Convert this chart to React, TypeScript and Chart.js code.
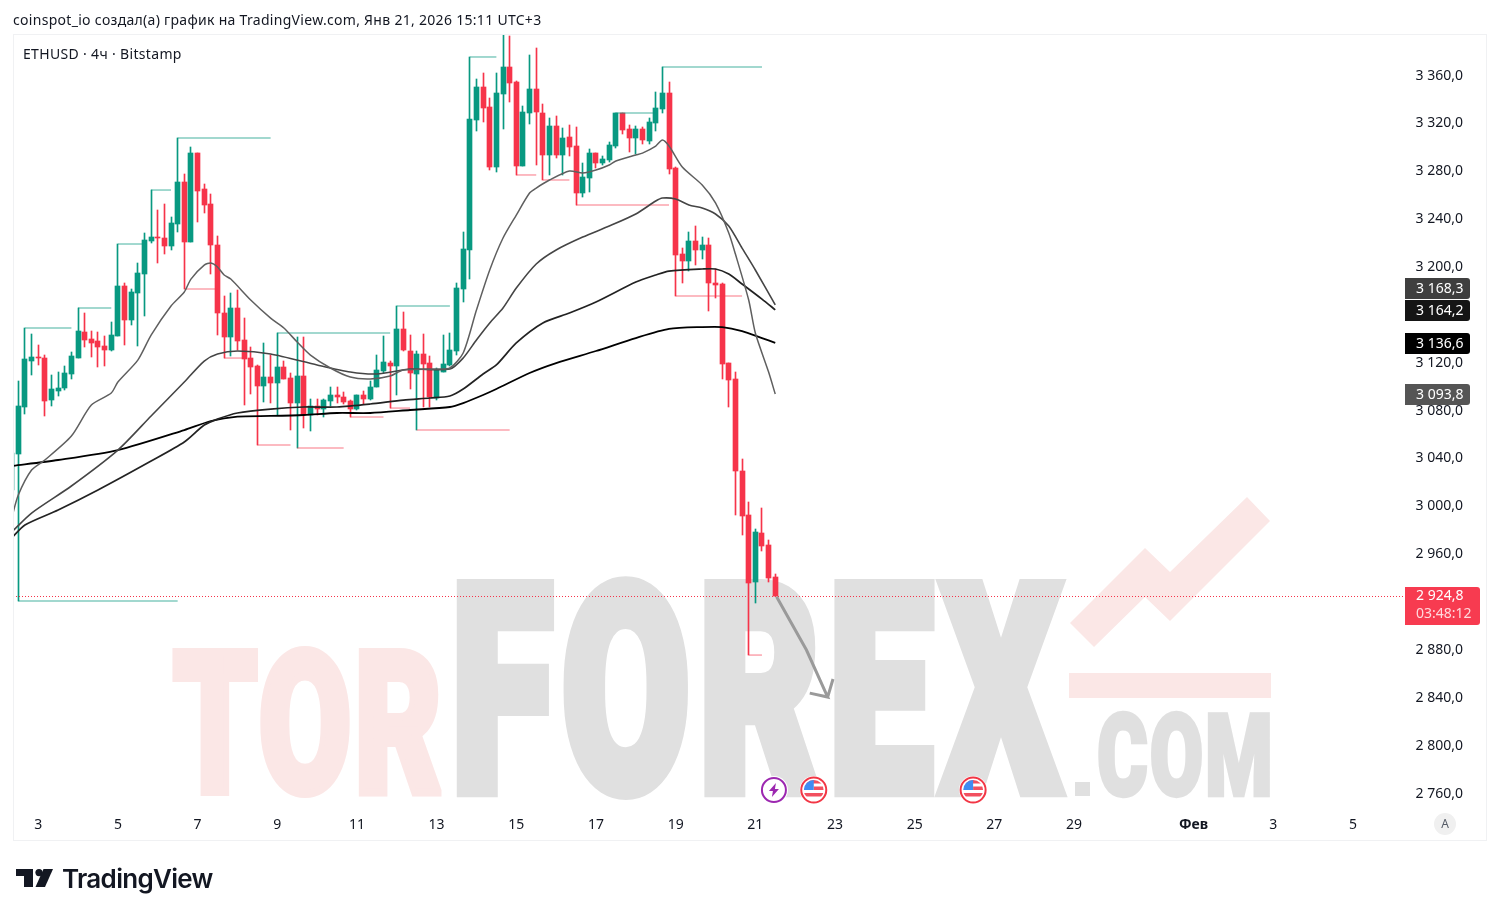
import React, { useEffect, useRef } from "react";
import { Chart, registerables } from "chart.js";

Chart.register(...registerables);

const FIRST_INDEX = -1;
const opens = [3013.6,3043.7,3083.2,3121.4,3124.8,3123.9,3088.8,3096.3,3098.8,3110.6,3123.9,3145.6,3139.8,3138.1,3133.9,3130.6,3142.3,3184.1,3155.7,3178.2,3194.1,3221.7,3225,3224.2,3217.5,3235.9,3271,3220.9,3295.2,3265.2,3252.6,3218.4,3161.5,3141.5,3165.7,3139,3123.9,3117.2,3100.5,3108,3103,3116.4,3107.2,3086.3,3108.9,3076.3,3083.8,3081.3,3088,3093,3091.3,3088,3081.3,3093,3089.7,3099.7,3113.1,3119.7,3117.2,3148.2,3129.8,3110.6,3127.3,3119.7,3090.5,3112.2,3118.1,3129.8,3181.6,3214.2,3322.8,3350.4,3333.7,3283.5,3344.5,3367.1,3354.6,3284.4,3328.7,3348.7,3328.7,3293.6,3317.8,3293.6,3308.6,3301.1,3261.8,3274.3,3295.2,3286.9,3289.4,3301.1,3328.7,3315.3,3307.8,3315.3,3305.3,3320.3,3332,3345.4,3282.7,3210.8,3205,3221.7,3214.2,3218.4,3186.6,3185.8,3119.7,3106.4,3029.5,2992.7,2936.7,2977.7,2967.6,2940.9];
const highs = [3044.5,3104.7,3149,3144,3134.8,3126.4,3109.7,3112.2,3117.2,3128.9,3165.7,3161.5,3146.5,3145.6,3142.3,3154,3219.2,3186.6,3181.6,3203.3,3228.4,3264.3,3247.6,3252.6,3241.8,3307.8,3277.7,3300.3,3295.2,3269.3,3261,3225.9,3175.7,3178.2,3180.7,3157.3,3133.1,3118.1,3136.5,3126.4,3144.8,3121.4,3111.4,3141.5,3141.5,3089.7,3089.7,3089.7,3099.7,3099.7,3095.5,3088.8,3093,3096.3,3104.7,3126.4,3142.3,3121.4,3167.4,3162.4,3143.1,3129.8,3144,3125.6,3115.6,3143.1,3144.8,3186.6,3229.2,3375.5,3357.1,3362.1,3341.2,3362.1,3394.7,3393,3355.4,3334.5,3377.1,3383,3336.2,3324.5,3326.2,3316.1,3318.6,3317,3286.9,3298.6,3295.2,3292.7,3304.4,3328.7,3328.7,3318.6,3317.8,3317,3324.5,3346.2,3367.1,3354.6,3283.5,3215.8,3229.2,3234.2,3225,3224.2,3198.3,3186.6,3119.7,3112.2,3039.5,3003.6,2981,2998.6,2971.8,2943.4];
const lows = [3013.6,2920.8,3077.1,3109.7,3118.1,3075.5,3083.8,3092.2,3097.2,3106.4,3123.9,3133.1,3124.8,3116.4,3117.2,3129.8,3142.3,3134.8,3151.5,3133.9,3159,3220,3203.3,3210.8,3214.2,3229.2,3181.6,3220.9,3237.6,3245.1,3194.1,3143.1,3123.9,3125.6,3130.6,3084.6,3093.8,3051.2,3087.1,3086.3,3076.3,3106.4,3063.7,3048.7,3065.4,3062.9,3076.3,3074.6,3083.8,3086.3,3085.5,3074.6,3080.5,3085.5,3088.8,3099.7,3111.4,3082.1,3093,3129.8,3098,3063.7,3083,3083,3088.8,3112.2,3117.2,3126.4,3170.7,3189.9,3313.6,3321.1,3281,3279.4,3315.3,3337.9,3276.9,3284.4,3319.5,3285.2,3272.7,3276.9,3291.1,3276.9,3292.7,3251.8,3258.5,3262.6,3282.7,3285.2,3287.7,3299.4,3311.1,3296.1,3294.4,3302.8,3302.8,3313.6,3328.7,3277.7,3175.7,3186.6,3196.6,3201.6,3206.7,3163.2,3174.1,3106.4,3083,2992.7,2976,2875.7,2919.2,2962.6,2936.7,2924.8];
const closes = [3044.5,3083.8,3123.1,3124.8,3123.9,3088,3098,3098.8,3111.4,3125.6,3146.5,3139,3136.5,3133.1,3130.6,3143.1,3184.1,3155.7,3179.1,3195,3222.5,3225,3224.2,3217.5,3236.7,3271,3220.9,3295.2,3263.5,3251.8,3218.4,3161.5,3141.5,3165.7,3138.1,3123.1,3116.4,3100.5,3108,3103,3116.4,3106.4,3086.3,3108.9,3076.3,3083.8,3081.3,3088.8,3093,3091.3,3087.1,3081.3,3093,3089.7,3099.7,3113.9,3120.6,3117.2,3148.2,3130.6,3111.4,3127.3,3118.9,3091.3,3113.9,3118.9,3130.6,3182.4,3215,3323.7,3350.4,3332.8,3283.5,3345.4,3367.1,3353.7,3284.4,3329.5,3348.7,3329.5,3293.6,3317.8,3293.6,3307.8,3300.3,3261.8,3275.2,3295.2,3286.9,3290.2,3301.9,3328.7,3314.5,3307.8,3315.3,3306.1,3321.1,3332.8,3345.4,3281.9,3210,3205,3221.7,3214.2,3218.4,3186.6,3184.9,3118.9,3105.5,3029.5,2991.9,2935.9,2978.5,2966.8,2940.1,2924.8];

const ma1Index = [-1,0,2,4,8,11,14,15,18,20,23,25,26,28,29,30,31,32,35,38,40,42,44,47,50,53,56,58,63,65,67,69,71,73,75,77,78,80,83,85,87,89,90,93,94,96,97,98,100,103,105,107,108,110,111,113,114];
const ma1Values = [2990.2,3009.4,3030.3,3038.7,3058.7,3084.6,3094.7,3103.9,3122.2,3143.1,3167.4,3179.1,3189.9,3201.6,3203.3,3200,3193.3,3189.9,3172.4,3157.3,3149,3137.3,3126.4,3115.6,3108,3106.4,3108.9,3113.9,3114.7,3115.6,3128.1,3164,3197.5,3224.2,3243.4,3261.8,3266,3272.7,3280.2,3278.5,3281,3285.2,3288.6,3293.6,3295.2,3301.1,3306.1,3301.1,3283.5,3268.5,3253.5,3228.4,3210.8,3172.4,3144.8,3112.2,3093.8];
const ma2Index = [-1,2,8,15,20,25,28,30,33,38,45,50,54,59,65,67,69,71,73,75,78,81,85,89,93,96,97,99,101,103,105,107,109,111,114];
const ma2Values = [2978.5,2994.4,3017,3047,3075.5,3103.9,3121.4,3127.3,3129.8,3127.3,3118.1,3112.2,3110.6,3114.7,3114.7,3123.9,3139,3153.2,3165.7,3182.4,3202.5,3214.2,3225,3234.2,3244.3,3255.1,3257.6,3256.8,3251.8,3249.3,3244.3,3234.2,3215.8,3197.5,3168.3];
const ma3Index = [-1,1,6,12,20,25,28,30,33,38,43,48,53,58,62,65,67,70,72,75,79,83,87,93,96,98,103,105,107,109,112,114];
const ma3Values = [2973.5,2984.4,2996.9,3013.6,3037.8,3053.7,3067.9,3072.9,3078,3081.3,3083,3083,3085.5,3088.8,3090.5,3092.2,3098,3110.6,3118.1,3136.5,3153.2,3161.5,3170.7,3187.4,3193.3,3196.6,3198.3,3198.3,3194.1,3185.8,3173.2,3164.2];
const ma4Index = [-1,6,15,25,29,33,38,43,48,53,59,65,67,70,72,77,81,87,93,98,103,106,109,112,114];
const ma4Values = [3033.7,3038.7,3047,3063.7,3071.3,3075,3075.5,3076.3,3078,3078,3080.5,3083,3086.3,3093,3098,3111.4,3119.7,3129.8,3140.6,3148.2,3149.8,3149.8,3146.5,3140.6,3136.6];

const pivotHighStart = [0,1,9,15,20,24,39,57,68,90,97];
const pivotHighEnd = [24,8,14,19,23,38,56,65,72,96,112];
const pivotHighLevel = [2920.8,3149,3165.7,3219.2,3264.3,3307.8,3144.8,3167.4,3375.5,3328.7,3367.1];
const pivotLowStart = [25,31,36,42,50,56,60,75,79,84,99,110];
const pivotLowEnd = [30,34,41,49,55,59,74,78,83,98,109,112];
const pivotLowLevel = [3181.6,3123.9,3051.2,3048.7,3074.6,3082.1,3063.7,3276.9,3272.7,3251.8,3175.7,2875.7];

const arrowIndex = [114.2,118.7,121.9,119.2,121.9,122.7];
const arrowPrice = [2924.4,2879.9,2840.6,2843.9,2840.6,2855.7];

const priceTicks = [2760,2800,2840,2880,2920,2960,3000,3040,3080,3120,3160,3200,3240,3280,3320,3360];
const timeTickIndex = [3,15,27,39,51,63,75,87,99,111,123,135,147,159,177,189,201];
const timeTickLabels = ["3","5","7","9","11","13","15","17","19","21","23","25","27","29","Фев","3","5"];
const boldTimeTick = "Фев";

const lastPrice = 2924.8;
const countdown = "03:48:12";
const maLastValues = [3168.3, 3164.2, 3136.6, 3093.8];
const maLabelColors = ["#3f3f3f", "#151515", "#000000", "#555555"];

const eventIndex = [113.8, 119.8, 143.8];
const eventKinds = ["bolt", "flag", "flag"];

const titleText = "coinspot_io создал(а) график на TradingView.com, Янв 21, 2026 15:11 UTC+3";
const symbolText = "ETHUSD · 4ч · Bitstamp";

const UP = "#089981";
const DOWN = "#F6344A";
const FONT = '"Noto Sans"';

const fmtPrice = (v: number) => {
  const s = v.toFixed(1).replace(".", ",");
  const i = s.indexOf(",");
  return s.slice(0, i - 3) + " " + s.slice(i - 3);
};

function fitText(ctx: CanvasRenderingContext2D, text: string, x0: number, y0: number, x1: number, y1: number, color: string, bold = 8, spacing = 0) {
  ctx.save();
  ctx.font = "900 200px Roboto";
  (ctx as any).letterSpacing = `${spacing}px`;
  ctx.textAlign = "left";
  ctx.textBaseline = "alphabetic";
  const m = ctx.measureText(text);
  const w = m.actualBoundingBoxLeft + m.actualBoundingBoxRight + bold;
  const h = m.actualBoundingBoxAscent + m.actualBoundingBoxDescent + bold;
  const sx = (x1 - x0) / w;
  const sy = (y1 - y0) / h;
  ctx.translate(x0 + (m.actualBoundingBoxLeft + bold / 2) * sx, y0 + (m.actualBoundingBoxAscent + bold / 2) * sy);
  ctx.scale(sx, sy);
  ctx.fillStyle = color;
  ctx.strokeStyle = color;
  ctx.lineWidth = bold;
  ctx.lineJoin = "miter";
  ctx.fillText(text, 0, 0);
  ctx.strokeText(text, 0, 0);
  ctx.restore();
}

const watermark = {
  id: "watermark",
  beforeDatasetsDraw(chart: any) {
    const ctx: CanvasRenderingContext2D = chart.ctx;
    const gray = "#e0e0e0";
    const pink = "#fbe7e6";
    fitText(ctx, "TOR", 172, 645, 442, 798, pink, 8, 4);
    fitText(ctx, "FOREX", 456, 575, 1065, 800, gray, 10, 10);
    fitText(ctx, "COM", 1098, 710, 1270, 798, gray, 8, 6);
    ctx.save();
    ctx.fillStyle = gray;
    ctx.fillRect(1075, 782, 15, 14);
    ctx.fillStyle = pink;
    ctx.beginPath();
    const pts = [[1070,623],[1145,548],[1170,572],[1247,497],[1270,521],[1170,621],[1145,597],[1094,647]];
    pts.forEach(([x, y], i) => (i ? ctx.lineTo(x, y) : ctx.moveTo(x, y)));
    ctx.closePath();
    ctx.fill();
    ctx.fillRect(1069, 673, 202, 25);
    ctx.restore();
  },
};

const snapBars = {
  id: "snapBars",
  afterDatasetsUpdate(chart: any) {
    chart.data.datasets.forEach((ds: any, k: number) => {
      if (ds.type === "line") return;
      chart.getDatasetMeta(k).data.forEach((el: any) => {
        el.x = Math.floor(el.x) + 0.5;
        let top = Math.round(Math.min(el.y, el.base));
        let bot = Math.round(Math.max(el.y, el.base));
        if (bot <= top) bot = top + 1;
        el.y = top;
        el.base = bot;
      });
    });
  },
};

const overlays = {
  id: "overlays",
  afterDraw(chart: any) {
    const ctx: CanvasRenderingContext2D = chart.ctx;
    const y = chart.scales.y;
    const x = chart.scales.x;
    const area = chart.chartArea;
    ctx.save();

    const ly = Math.round(y.getPixelForValue(lastPrice)) + 0.5;
    ctx.strokeStyle = DOWN;
    ctx.lineWidth = 1;
    ctx.setLineDash([1, 2]);
    ctx.beginPath();
    ctx.moveTo(area.left, ly);
    ctx.lineTo(1405, ly);
    ctx.stroke();
    ctx.setLineDash([]);

    const order = maLastValues.map((v, i) => ({ v, c: maLabelColors[i] })).sort((a, b) => a.v - b.v);
    let prev = Infinity;
    const boxH = 21;
    ctx.textBaseline = "middle";
    ctx.textAlign = "left";
    order.forEach(({ v, c }) => {
      let cy = y.getPixelForValue(v);
      if (prev - cy < boxH + 1) cy = prev - (boxH + 1);
      prev = cy;
      const top = Math.round(cy - boxH / 2 + 0.5);
      ctx.fillStyle = c;
      ctx.beginPath();
      (ctx as any).roundRect(1405, top, 65, boxH, [0, 3, 3, 0]);
      ctx.fill();
      ctx.fillStyle = "#ffffff";
      ctx.font = `14px ${FONT}`;
      ctx.fillText(fmtPrice(v), 1416, top + boxH / 2 + 0.5);
    });

    ctx.fillStyle = "#F73B50";
    ctx.beginPath();
    (ctx as any).roundRect(1405, 587, 75, 38, [0, 3, 3, 0]);
    ctx.fill();
    ctx.fillStyle = "#ffffff";
    ctx.font = `14px ${FONT}`;
    ctx.fillText(fmtPrice(lastPrice), 1416, 596.5);
    ctx.fillStyle = "#ffd9dd";
    ctx.fillText(countdown, 1416, 614);

    eventIndex.forEach((idx, k) => {
      const cx = x.getPixelForValue(idx);
      const cy = 790;
      ctx.fillStyle = "#ffffff";
      ctx.beginPath();
      ctx.arc(cx, cy, 14, 0, Math.PI * 2);
      ctx.fill();
      if (eventKinds[k] === "bolt") {
        ctx.strokeStyle = "#9C27B0";
        ctx.lineWidth = 2;
        ctx.beginPath();
        ctx.arc(cx, cy, 12, 0, Math.PI * 2);
        ctx.stroke();
        ctx.fillStyle = "#9C27B0";
        ctx.beginPath();
        const b = [[2,-7],[-5,1],[-1,1],[-2,7],[5,-1],[1,-1]];
        b.forEach(([dx, dy], i) => (i ? ctx.lineTo(cx + dx, cy + dy) : ctx.moveTo(cx + dx, cy + dy)));
        ctx.closePath();
        ctx.fill();
      } else {
        ctx.strokeStyle = "#F23645";
        ctx.lineWidth = 2;
        ctx.beginPath();
        ctx.arc(cx, cy, 12.5, 0, Math.PI * 2);
        ctx.stroke();
        ctx.save();
        ctx.beginPath();
        ctx.arc(cx, cy, 10, 0, Math.PI * 2);
        ctx.clip();
        ctx.fillStyle = "#ffffff";
        ctx.fillRect(cx - 10, cy - 10, 20, 20);
        ctx.fillStyle = "#F2505F";
        ctx.fillRect(cx - 10, cy - 10, 20, 3.5);
        ctx.fillRect(cx, cy - 3.5, 10, 3.5);
        ctx.fillRect(cx - 10, cy + 3, 20, 3.5);
        ctx.fillStyle = "#3F8CF2";
        ctx.fillRect(cx - 10, cy - 10, 10, 10);
        ctx.restore();
      }
    });

    ctx.fillStyle = "#f0f0f0";
    ctx.beginPath();
    ctx.arc(1445, 824, 11, 0, Math.PI * 2);
    ctx.fill();
    ctx.fillStyle = "#555b66";
    ctx.font = `12px ${FONT}`;
    ctx.textAlign = "center";
    ctx.fillText("A", 1445, 824.5);
    ctx.restore();
  },
};

const indexOf = (i: number) => i + FIRST_INDEX;
const zip = (xs: number[], ys: number[]) => xs.map((v, i) => ({ x: v, y: ys[i] }));

export default function App() {
  const ref = useRef<HTMLCanvasElement>(null);
  useEffect(() => {
    const colors = closes.map((c, i) => (c >= opens[i] ? UP : DOWN));
    const pivot = (s: number[], e: number[], l: number[], color: string) =>
      s.map((v, i) => ({
        type: "line",
        data: [{ x: v, y: l[i] }, { x: e[i], y: l[i] }],
        borderColor: color,
        borderWidth: 1.5,
        pointRadius: 0,
        order: 3,
      }));
    const ma = (xs: number[], ys: number[], color: string, width: number) => ({
      type: "line",
      data: zip(xs, ys),
      borderColor: color,
      borderWidth: width,
      pointRadius: 0,
      tension: 0.25,
      order: 1,
    });
    const chart = new Chart(ref.current as HTMLCanvasElement, {
      type: "bar",
      data: {
        datasets: [
          ma(ma1Index, ma1Values, "#5f5f5f", 1.5),
          ma(ma2Index, ma2Values, "#454545", 1.6),
          ma(ma3Index, ma3Values, "#222222", 1.7),
          ma(ma4Index, ma4Values, "#000000", 1.8),
          {
            type: "line",
            data: zip(arrowIndex, arrowPrice),
            borderColor: "#9a9a9a",
            borderWidth: 3,
            pointRadius: 0,
            order: 0,
          },
          ...pivot(pivotHighStart, pivotHighEnd, pivotHighLevel, "rgba(8,153,129,0.5)"),
          ...pivot(pivotLowStart, pivotLowEnd, pivotLowLevel, "rgba(246,52,74,0.45)"),
          {
            type: "bar",
            data: highs.map((h, i) => ({ x: indexOf(i), y: [lows[i], h] })),
            backgroundColor: colors,
            barThickness: 1,
            grouped: false,
            order: 5,
          },
          {
            type: "bar",
            data: opens.map((o, i) => ({ x: indexOf(i), y: [o, closes[i]] })),
            backgroundColor: colors,
            barThickness: 5,
            grouped: false,
            order: 4,
          },
        ] as any,
      },
      options: {
        responsive: false,
        animation: false,
        events: [],
        layout: { padding: { left: 13, top: 34, right: 36, bottom: 76 } },
        plugins: { legend: { display: false }, tooltip: { enabled: false }, title: { display: false } },
        scales: {
          x: {
            type: "linear",
            min: -0.798,
            max: 208.09,
            offset: false,
            grid: { display: false, offset: false },
            border: { display: false },
            afterBuildTicks: (s: any) => {
              s.ticks = timeTickIndex.map((v) => ({ value: v }));
            },
            afterFit: (s: any) => {
              s.height = 32;
            },
            ticks: {
              autoSkip: false,
              maxRotation: 0,
              padding: 1,
              color: "#131722",
              font: (c: any) => ({
                family: "Noto Sans",
                size: 14,
                weight: timeTickLabels[timeTickIndex.indexOf(c.tick?.value)] === boldTimeTick ? "bold" : "normal",
              }),
              callback: (v: any) => timeTickLabels[timeTickIndex.indexOf(v)],
            },
          },
          y: {
            type: "linear",
            position: "right",
            min: 2747.9,
            max: 3394.7,
            grid: { display: false },
            border: { display: false },
            afterBuildTicks: (s: any) => {
              s.ticks = priceTicks.map((v) => ({ value: v }));
            },
            afterFit: (s: any) => {
              s.width = 63;
            },
            ticks: {
              autoSkip: false,
              crossAlign: "far",
              padding: 15,
              color: "#131722",
              font: { family: "Noto Sans", size: 14 },
              callback: (v: any) => fmtPrice(Number(v)),
            },
          },
        },
      } as any,
      plugins: [watermark, snapBars, overlays],
    });
    return () => chart.destroy();
  }, []);

  const textStyle: React.CSSProperties = {
    position: "absolute",
    fontFamily: FONT,
    fontSize: 14,
    lineHeight: "20px",
    color: "#131722",
    whiteSpace: "nowrap",
  };
  return (
    <div style={{ position: "fixed", left: 0, top: 0, width: 1499, height: 916, background: "#fff", overflow: "hidden" }}>
      <canvas ref={ref} width={1499} height={916} style={{ position: "absolute", left: 0, top: 0 }} />
      <div style={{ position: "absolute", left: 13, top: 34, width: 1472, height: 805, border: "1px solid #f0f1f3", pointerEvents: "none" }} />
      <div style={{ ...textStyle, left: 13, top: 10, letterSpacing: 0.3 }}>{titleText}</div>
      <div style={{ ...textStyle, left: 23, top: 44, letterSpacing: 0.33 }}>{symbolText}</div>
      <svg width="40" height="20" viewBox="0 0 40 20" style={{ position: "absolute", left: 15, top: 868 }}>
        <path d="M1 1H18V19H9V8H1Z" fill="#131722" />
        <circle cx="24" cy="4.6" r="3.6" fill="#131722" />
        <path d="M28.5 1H38L30 19H20.5Z" fill="#131722" />
      </svg>
      <div style={{ ...textStyle, left: 62, top: 862, fontFamily: "Inter", fontWeight: 600, fontSize: 26, lineHeight: "34px", letterSpacing: -0.7 }}>
        TradingView
      </div>
    </div>
  );
}
